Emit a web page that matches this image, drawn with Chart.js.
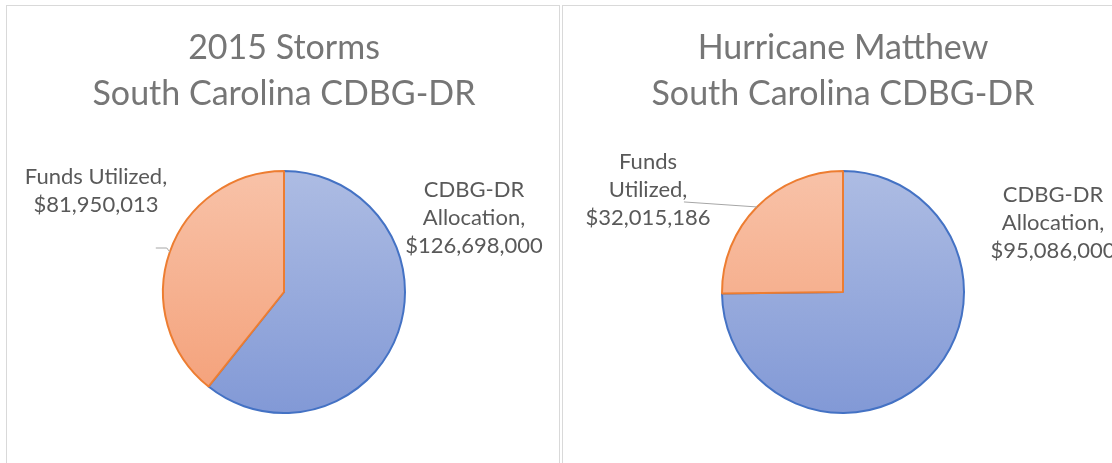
<!DOCTYPE html>
<html>
<head>
<meta charset="utf-8">
<script src="https://cdn.jsdelivr.net/npm/chart.js@4/dist/chart.umd.min.js"></script>
<style>
  html, body { margin: 0; padding: 0; background: #fff; overflow: hidden; }
  .box { position: absolute; top: 5px; border: 1px solid #d9d9d9; background: #fff; }
  #box1 { left: 6px; width: 552px; height: 470px; }
  #box2 { left: 562px; width: 560px; height: 470px; }
  canvas { display: block; }
</style>
</head>
<body>
<div class="box" id="box1"><canvas id="stormsChart" width="552" height="470"></canvas></div>
<div class="box" id="box2"><canvas id="matthewChart" width="560" height="470"></canvas></div>

<script>
// slice names, same order for both pies (first slice starts at 12 o'clock)
const categories = ['CDBG-DR Allocation', 'Funds Utilized'];

const storms2015Values = [126698000, 81950013];
const matthewValues = [95086000, 32015186];

const stormsTitle = ['2015 Storms', 'South Carolina CDBG-DR'];
const matthewTitle = ['Hurricane Matthew', 'South Carolina CDBG-DR'];

const PIE_R = 121;
const FONT = 'Lato, "Open Sans", sans-serif';

// top/bottom colour of each slice fill
const fillStops = [['#adbce3', '#8299d6'], ['#f8c2a8', '#f49f77']];

// vertical fill like the office chart look
function sliceFill(c) {
    const stops = fillStops[c.dataIndex % fillStops.length];
    const chart = c.chart;
    const area = chart.chartArea;
    if (!area) return stops[0];
    const cy = (area.top + area.bottom) / 2;
    const g = chart.ctx.createLinearGradient(0, cy - PIE_R, 0, cy + PIE_R);
    g.addColorStop(0, stops[0]);
    g.addColorStop(1, stops[1]);
    return g;
}

function money(v) {
    return '$' + v.toLocaleString('en-US');
}

// outside labels with optional leader line
const sliceLabels = {
    id: 'sliceLabels',
    afterDatasetsDraw(chart, args, opts) {
        const ctx = chart.ctx;
        const arcs = chart.getDatasetMeta(0).data;
        const values = chart.data.datasets[0].data;
        ctx.save();
        arcs.forEach((arc, i) => {
            const p = arc.getProps(['x', 'y', 'outerRadius', 'startAngle', 'endAngle'], true);
            const place = opts.places[i];
            const mid = (p.startAngle + p.endAngle) / 2;

            if (place.leader) {
                const ex = p.x + Math.cos(mid) * p.outerRadius;
                const ey = p.y + Math.sin(mid) * p.outerRadius;
                ctx.beginPath();
                ctx.moveTo(ex, ey);
                place.leader.forEach(pt => ctx.lineTo(ex + pt[0], ey + pt[1]));
                ctx.strokeStyle = '#a6a6a6';
                ctx.lineWidth = 1;
                ctx.stroke();
            }

            const name = chart.data.labels[i];
            const lines = place.wrap ? name.split(' ') : [name];
            lines[lines.length - 1] += ',';
            lines.push(money(values[i]));

            ctx.font = opts.size + 'px ' + FONT;
            ctx.fillStyle = '#595959';
            ctx.textAlign = 'center';
            ctx.textBaseline = 'middle';
            const cx = p.x + place.dx;
            const cy = p.y + place.dy - (lines.length - 1) * opts.lineHeight / 2;
            lines.forEach((t, k) => ctx.fillText(t, cx, cy + k * opts.lineHeight));
        });
        ctx.restore();
    }
};

function drawPie(canvasId, values, title, places, pad) {
    const ctx = document.getElementById(canvasId);
    return new Chart(ctx, {
        type: 'pie',
        data: {
            labels: categories,
            datasets: [{
                data: values,
                backgroundColor: sliceFill,
                borderColor: ['#4472c4', '#ed7d31'],
                borderWidth: 2
            }]
        },
        options: {
            responsive: false,
            animation: false,
            radius: PIE_R,
            layout: { padding: pad },
            plugins: {
                legend: { display: false },
                tooltip: { enabled: false },
                title: {
                    display: true,
                    text: title,
                    color: '#767676',
                    font: { family: FONT, size: 34, weight: 'normal', lineHeight: 46 / 34 },
                    padding: { top: 19, bottom: 9 }
                },
                sliceLabels: { places: places, size: 22, lineHeight: 28 }
            }
        },
        plugins: [sliceLabels]
    });
}

drawPie('stormsChart', storms2015Values, stormsTitle, [
    { dx: 190, dy: -74, wrap: true },
    { dx: -188, dy: -101, wrap: false, leader: [[-3, -4], [-14, -4]] }
], { left: 12, right: 10, top: 0, bottom: 18 });

drawPie('matthewChart', matthewValues, matthewTitle, [
    { dx: 210, dy: -69, wrap: true },
    { dx: -195, dy: -102, wrap: true, leader: [[-73, -5]] }
], { left: 10, right: 10, top: 0, bottom: 18 });
</script>
</body>
</html>
